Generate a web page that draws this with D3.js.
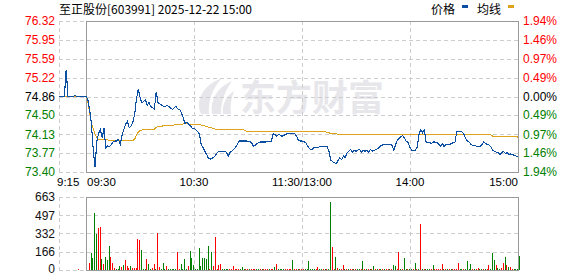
<!DOCTYPE html>
<html>
<head>
<meta charset="utf-8">
<script src="https://cdn.jsdelivr.net/npm/d3@7"></script>
<style>
  html, body { margin: 0; padding: 0; background: #fff; }
  svg { display: block; font-family: "Liberation Sans", Arial, sans-serif; }
  .grid { stroke: #cdcdcd; stroke-dasharray: 4,3; stroke-width: 1; shape-rendering: crispEdges; }
  .frame { fill: none; stroke: #999; stroke-width: 1; shape-rendering: crispEdges; }
</style>
</head>
<body>
<div id="chart"></div>
<script>
// 至正股份 intraday: minutes -15..-1 are the 9:15-9:29 call auction, 0..240 the session.
const TITLE = "至正股份[603991] 2025-12-22 15:00";
const PREV_CLOSE = 74.86;

const prePrice = [74.86, 74.86, 74.86, 74.86, 75.38, 74.86, 74.86, 74.86, 74.86, 74.88,
  74.86, 74.86, 74.86, 74.86, 74.86];
const preAvg = [74.86, 74.86, 74.86, 74.86, 74.86, 74.86, 74.86, 74.86, 74.86, 74.86,
  74.86, 74.86, 74.86, 74.86, 74.86];
const preVolume = [0, 0, 0, 0, 0, 0, 0, 0, 0, 0, 12, 0, 0, 0, 0];
const preColor = "gggggggggg" + "rgggg";

const price = [
  74.86, 74.80, 74.61, 74.33, 73.84, 73.49, 73.99, 74.15, 74.22, 74.06,
  74.24, 73.87, 73.91, 73.89, 73.93, 73.98, 74.00, 74.00, 74.03, 73.93,
  74.11, 74.22, 74.32, 74.38, 74.26, 74.29, 74.36, 74.51, 74.80, 75.01,
  74.85, 74.74, 74.76, 74.80, 74.69, 74.74, 74.67, 74.64, 74.62, 74.95,
  74.74, 74.72, 74.69, 74.67, 74.67, 74.69, 74.67, 74.64, 74.61, 74.64,
  74.67, 74.62, 74.61, 74.54, 74.45, 74.34, 74.36, 74.32, 74.29, 74.25,
  74.24, 74.22, 74.18, 74.13, 73.93, 73.87, 73.80, 73.74, 73.67, 73.65,
  73.66, 73.69, 73.72, 73.78, 73.80, 73.80, 73.80, 73.80, 73.78, 73.71,
  73.78, 73.80, 73.84, 73.87, 73.93, 74.00, 74.00, 74.00, 74.00, 74.00,
  73.99, 73.99, 73.97, 73.90, 73.91, 73.95, 73.97, 73.98, 73.98, 73.98,
  73.98, 73.99, 73.99, 74.00, 74.14, 74.13, 74.09, 74.13, 74.11, 74.09,
  74.11, 74.13, 74.14, 74.14, 74.14, 74.14, 74.14, 74.09, 74.01, 74.00,
  74.00, 73.99, 73.97, 73.91, 73.86, 73.83, 73.85, 73.88, 73.88, 73.88,
  73.89, 73.89, 73.89, 73.89, 73.89, 73.80, 73.63, 73.60, 73.58, 73.56,
  73.62, 73.67, 73.64, 73.71, 73.68, 73.77, 73.80, 73.84, 73.78, 73.82,
  73.80, 73.82, 73.84, 73.78, 73.82, 73.80, 73.82, 73.78, 73.84, 73.80,
  73.82, 73.83, 73.85, 73.88, 73.91, 73.93, 73.93, 73.93, 73.93, 73.93,
  73.92, 73.82, 73.93, 74.02, 74.05, 74.09, 74.10, 74.05, 73.99, 73.97,
  73.87, 73.82, 73.82, 73.82, 73.88, 74.13, 74.22, 74.16, 74.21, 73.97,
  73.98, 73.97, 73.95, 73.98, 73.98, 73.97, 73.93, 73.90, 73.95, 73.89,
  73.93, 73.93, 73.93, 73.95, 73.97, 73.98, 74.19, 74.19, 74.19, 74.17,
  74.13, 74.04, 74.00, 73.97, 73.93, 73.91, 73.91, 73.90, 73.90, 73.90,
  73.93, 73.98, 73.95, 73.93, 73.92, 73.88, 73.82, 73.80, 73.78, 73.77,
  73.74, 73.78, 73.80, 73.76, 73.77, 73.74, 73.75, 73.74, 73.72, 73.71,
  73.69
];

const avgPrice = [
  74.86, 74.77, 74.54, 74.35, 74.24, 74.13, 74.07, 74.03, 74.03, 74.03,
  74.03, 74.02, 74.02, 74.01, 74.01, 74.01, 74.01, 74.01, 74.01, 74.01,
  74.01, 74.01, 74.01, 74.01, 74.01, 74.01, 74.01, 74.03, 74.11, 74.17,
  74.20, 74.21, 74.22, 74.22, 74.22, 74.22, 74.22, 74.22, 74.23, 74.26,
  74.28, 74.28, 74.28, 74.30, 74.30, 74.30, 74.30, 74.30, 74.30, 74.31,
  74.31, 74.31, 74.31, 74.31, 74.33, 74.33, 74.33, 74.33, 74.32, 74.32,
  74.32, 74.32, 74.32, 74.32, 74.31, 74.30, 74.29, 74.28, 74.27, 74.26,
  74.25, 74.24, 74.23, 74.22, 74.22, 74.22, 74.22, 74.22, 74.22, 74.22,
  74.22, 74.22, 74.22, 74.22, 74.22, 74.22, 74.22, 74.22, 74.21, 74.19,
  74.19, 74.19, 74.19, 74.19, 74.19, 74.19, 74.19, 74.19, 74.19, 74.19,
  74.19, 74.19, 74.19, 74.19, 74.19, 74.19, 74.19, 74.19, 74.19, 74.19,
  74.19, 74.19, 74.19, 74.19, 74.19, 74.19, 74.19, 74.19, 74.19, 74.19,
  74.19, 74.19, 74.19, 74.19, 74.19, 74.19, 74.18, 74.18, 74.18, 74.18,
  74.18, 74.18, 74.18, 74.18, 74.16, 74.16, 74.14, 74.14, 74.14, 74.14,
  74.13, 74.13, 74.13, 74.13, 74.13, 74.13, 74.13, 74.13, 74.13, 74.13,
  74.13, 74.13, 74.13, 74.13, 74.13, 74.13, 74.13, 74.13, 74.13, 74.13,
  74.13, 74.13, 74.13, 74.13, 74.13, 74.13, 74.13, 74.13, 74.13, 74.13,
  74.13, 74.13, 74.13, 74.13, 74.13, 74.13, 74.13, 74.13, 74.13, 74.13,
  74.12, 74.12, 74.12, 74.12, 74.12, 74.12, 74.12, 74.12, 74.12, 74.12,
  74.12, 74.12, 74.12, 74.12, 74.12, 74.12, 74.12, 74.12, 74.12, 74.12,
  74.12, 74.12, 74.12, 74.12, 74.12, 74.12, 74.12, 74.12, 74.12, 74.12,
  74.12, 74.12, 74.12, 74.12, 74.12, 74.12, 74.12, 74.12, 74.12, 74.12,
  74.12, 74.12, 74.12, 74.12, 74.12, 74.12, 74.09, 74.09, 74.09, 74.09,
  74.09, 74.09, 74.09, 74.09, 74.09, 74.09, 74.09, 74.09, 74.09, 74.09,
  74.07
];

const volume = [
  0, 67, 150, 113, 518, 328, 380, 389, 104, 52,
  122, 89, 221, 122, 67, 21, 5, 10, 37, 28,
  46, 92, 37, 21, 37, 14, 21, 21, 282, 276,
  184, 5, 12, 104, 58, 5, 14, 58, 5, 340,
  28, 5, 67, 5, 40, 5, 5, 10, 5, 8,
  168, 10, 58, 5, 104, 10, 37, 175, 113, 46,
  9, 9, 196, 37, 113, 113, 98, 215, 12, 159,
  37, 297, 9, 46, 58, 9, 9, 9, 9, 9,
  9, 37, 9, 9, 9, 9, 28, 9, 9, 9,
  9, 9, 9, 12, 9, 9, 9, 9, 9, 9,
  9, 9, 9, 9, 28, 58, 9, 9, 9, 9,
  9, 9, 9, 9, 89, 9, 9, 9, 9, 9,
  9, 9, 9, 80, 9, 9, 9, 12, 28, 9,
  9, 9, 9, 9, 9, 619, 212, 9, 120, 14,
  9, 9, 46, 9, 9, 9, 9, 9, 9, 9,
  9, 9, 9, 80, 9, 9, 9, 9, 9, 37,
  9, 9, 9, 9, 9, 9, 9, 9, 9, 9,
  46, 37, 9, 166, 9, 9, 110, 9, 9, 9,
  9, 9, 64, 9, 9, 417, 9, 9, 9, 9,
  9, 9, 46, 9, 9, 9, 9, 55, 9, 9,
  9, 9, 9, 9, 9, 9, 64, 9, 9, 9,
  9, 80, 9, 55, 9, 9, 9, 18, 9, 9,
  9, 9, 9, 46, 9, 156, 89, 46, 18, 9,
  18, 64, 120, 46, 28, 28, 9, 5, 9, 9,
  129
];
// r = up tick (red), g = down tick (green), one letter per session minute
const volColor =
  "rrggggrrgr" + "gggrrrgggr" + "grrrgrrrrr" + "gggrggrrgr" + "rgggrggggg" +
  "rrggggrggg" + "ggggggggrg" + "rrrrrggggr" + "rrrrrgggrr" + "grrrggrgrr" +
  "rgrrgrgggg" + "rrrrgrrgrr" + "rggggggrrg" + "grgrggrrgr" + "grrgrgrrgr" +
  "ggrgrgrgrg" + "rgrgrgrrgr" + "ggrrgrggrg" + "grgrgrgrgg" + "grgrrrrrgr" +
  "grgrrrrggr" + "ggggrgrrgg" + "rgrrgggrgg" + "rrgrgrrgggg";

const priceTicks = [76.32, 75.95, 75.59, 75.22, 74.86, 74.50, 74.13, 73.77, 73.40];
const pctLabels = ["1.94%", "1.46%", "0.97%", "0.49%", "0.00%", "0.49%", "0.97%", "1.46%", "1.94%"];
const volTicks = [663, 497, 332, 166, 0];
const timeLabels = ["9:15", "09:30", "10:30", "11:30/13:00", "14:00", "15:00"];
const timeMinutes = [-15, 0, 60, 120, 180, 240];
const legendNames = ["价格", "均线"];

const W = 578, H = 276;
const UP = "#ff0000", DOWN = "#008000", FLAT = "#000000";
const BLUE = "#0b4fa2", GOLD = "#dea21b";

const x = d3.scaleLinear([-15, 240], [59, 518]);
const y = d3.scaleLinear([73.40, 76.32], [172, 21]);
const yv = d3.scaleLinear([0, 663], [270, 197]);
const px = (v) => Math.round(v) + 0.5;

const svg = d3.select("#chart").append("svg").attr("width", W).attr("height", H);

// watermark
const wm = svg.append("g").attr("fill", "#e7e7eb");
wm.append("path").attr("d", "M201,114 C195,100 203,85 222,78 C212,89 208,101 209,114 Z");
wm.append("path").attr("d", "M212,114 C210,99 218,87 232,81 C224,92 221,103 221,114 Z");
wm.append("path").attr("d", "M223,114 C222,104 226,96 234,91 C231,99 230,106 231,114 Z");
wm.append("text").attr("x", 240).attr("y", 111).attr("font-family", "'Noto Sans CJK SC'")
  .attr("font-weight", "bold").attr("font-size", 36).text("东方财富");

// grid
const xL = x(-15), x0 = x(0), xR = x(240);
svg.append("g").selectAll("line").data(priceTicks).join("line").attr("class", "grid")
  .attr("x1", xL).attr("x2", xR).attr("y1", (d) => px(y(d))).attr("y2", (d) => px(y(d)));
svg.append("g").selectAll("line").data(volTicks).join("line").attr("class", "grid")
  .attr("x1", xL).attr("x2", xR).attr("y1", (d) => px(yv(d))).attr("y2", (d) => px(yv(d)));
const vMins = [-15, 60, 120, 180];
svg.append("g").selectAll("line").data(vMins).join("line").attr("class", "grid")
  .attr("x1", (d) => px(x(d))).attr("x2", (d) => px(x(d))).attr("y1", y(76.32)).attr("y2", y(73.40));
svg.append("g").selectAll("line").data(vMins).join("line").attr("class", "grid")
  .attr("x1", (d) => px(x(d))).attr("x2", (d) => px(x(d))).attr("y1", yv(663)).attr("y2", yv(0));

// frames around session area
svg.append("rect").attr("class", "frame")
  .attr("x", px(x0)).attr("y", px(y(76.32))).attr("width", Math.round(xR - x0)).attr("height", Math.round(y(73.40) - y(76.32)));
svg.append("rect").attr("class", "frame")
  .attr("x", px(x0)).attr("y", px(yv(663))).attr("width", Math.round(xR - x0)).attr("height", Math.round(yv(0) - yv(663)));

// volume bars
const bars = [];
preVolume.forEach((v, k) => bars.push({ m: k - 15, v, c: preColor[k] }));
volume.forEach((v, i) => bars.push({ m: i, v, c: volColor[i] }));
svg.append("g").attr("shape-rendering", "crispEdges").selectAll("rect")
  .data(bars.filter((b) => b.v > 0)).join("rect")
  .attr("x", (b) => Math.round(x(b.m)) + 1).attr("width", 1)
  .attr("y", (b) => Math.min(yv(b.v), yv(0) - 1)).attr("height", (b) => Math.max(1, yv(0) - yv(b.v)))
  .attr("fill", (b) => (b.c === "r" ? UP : DOWN));

// price + average lines
const pricePts = prePrice.map((p, k) => [k - 15, p]).concat(price.map((p, i) => [i, p]));
const avgPts = preAvg.map((p, k) => [k - 15, p]).concat(avgPrice.map((p, i) => [i, p]));
const line = d3.line().x((d) => x(d[0])).y((d) => y(d[1]));
svg.append("path").datum(avgPts).attr("d", line).attr("fill", "none")
  .attr("stroke", GOLD).attr("stroke-width", 1).attr("shape-rendering", "crispEdges");
svg.append("path").datum(pricePts).attr("d", line).attr("fill", "none")
  .attr("stroke", BLUE).attr("stroke-width", 1.1).attr("shape-rendering", "crispEdges");

// left price labels, right percent labels
const tickColor = (d) => (d > PREV_CLOSE ? UP : d < PREV_CLOSE ? DOWN : FLAT);
svg.append("g").selectAll("text").data(priceTicks).join("text")
  .attr("x", 55).attr("y", (d) => y(d)).attr("dy", "0.36em").attr("text-anchor", "end")
  .attr("font-size", 12).attr("fill", tickColor).text((d) => d.toFixed(2));
svg.append("g").selectAll("text").data(pctLabels).join("text")
  .attr("x", 523).attr("y", (d, i) => y(priceTicks[i])).attr("dy", "0.36em")
  .attr("font-size", 12).attr("fill", (d, i) => tickColor(priceTicks[i])).text((d) => d);

// volume labels
svg.append("g").selectAll("text").data(volTicks).join("text")
  .attr("x", 55).attr("y", (d) => yv(d) - (d === 0 ? 1 : 0)).attr("dy", "0.36em").attr("text-anchor", "end")
  .attr("font-size", 12).attr("fill", "#111").text((d) => d);

// time labels
const anchors = ["start", "start", "middle", "middle", "middle", "end"];
const nudge = [-2, 1, 0, 0, 0, 0];
svg.append("g").selectAll("text").data(timeLabels).join("text")
  .attr("x", (d, i) => x(timeMinutes[i]) + nudge[i]).attr("y", 185.5)
  .attr("text-anchor", (d, i) => anchors[i]).attr("font-size", 11.5).attr("fill", "#000").text((d) => d);

// title and legend
svg.append("text").attr("x", 59).attr("y", 14).attr("font-size", 12)
  .attr("font-family", "'Noto Sans CJK SC', sans-serif").attr("fill", "#000").text(TITLE);
const lg = svg.append("g").attr("font-family", "'Noto Sans CJK SC', sans-serif").attr("font-size", 12);
lg.append("text").attr("x", 431).attr("y", 14).text(legendNames[0]);
lg.append("rect").attr("x", 462).attr("y", 5).attr("width", 6).attr("height", 3).attr("fill", BLUE);
lg.append("text").attr("x", 477).attr("y", 14).text(legendNames[1]);
lg.append("rect").attr("x", 508).attr("y", 5).attr("width", 6).attr("height", 3).attr("fill", GOLD);
</script>
</body>
</html>
